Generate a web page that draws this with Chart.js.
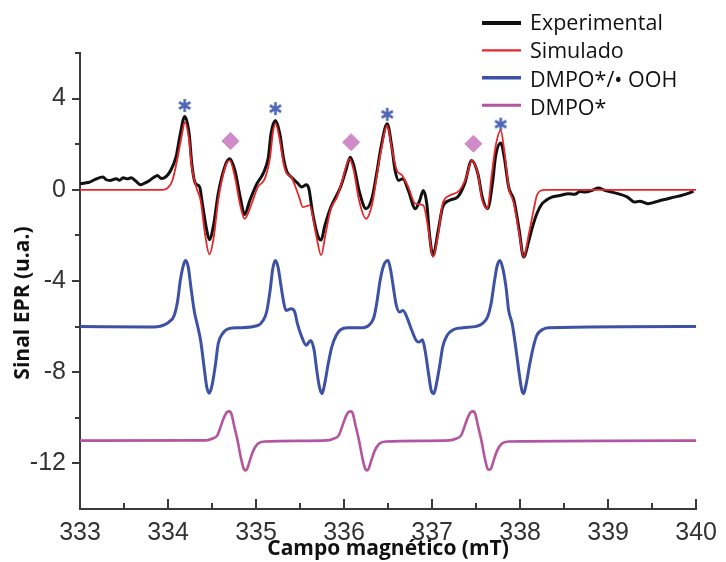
<!DOCTYPE html>
<html>
<head>
<meta charset="utf-8">
<script src="https://cdn.jsdelivr.net/npm/chart.js@4"></script>
<style>
  html, body { margin: 0; padding: 0; background: #fff; }
</style>
</head>
<body>
<canvas id="eprChart" width="726" height="562"></canvas>
<script>
// EPR spectra: field in mT, signal in arbitrary units
const expField = [333.00, 333.06, 333.11, 333.18, 333.26, 333.30, 333.34, 333.41, 333.45, 333.49,
  333.54, 333.58, 333.63, 333.69, 333.74, 333.79, 333.84, 333.88, 333.92, 333.96,
  334.03, 334.09, 334.14, 334.19, 334.24, 334.27, 334.31, 334.36, 334.39, 334.44,
  334.47, 334.52, 334.57, 334.65, 334.70, 334.76, 334.82, 334.87, 334.93, 335.01,
  335.08, 335.14, 335.17, 335.22, 335.27, 335.31, 335.35, 335.40, 335.47, 335.52,
  335.57, 335.60, 335.64, 335.70, 335.74, 335.78, 335.85, 335.96, 336.02, 336.07,
  336.11, 336.17, 336.25, 336.32, 336.37, 336.42, 336.49, 336.54, 336.58, 336.62,
  336.67, 336.73, 336.81, 336.86, 336.90, 336.94, 336.97, 337.01, 337.07, 337.12,
  337.20, 337.29, 337.37, 337.45, 337.52, 337.57, 337.63, 337.69, 337.72, 337.78,
  337.82, 337.87, 337.93, 337.99, 338.04, 338.10, 338.14, 338.19, 338.25, 338.30,
  338.36, 338.45, 338.55, 338.62, 338.68, 338.74, 338.82, 338.89, 338.96, 339.04,
  339.12, 339.22, 339.30, 339.36, 339.45, 339.52, 339.60, 339.67, 339.75, 339.83,
  339.90, 339.97];
const expSignal = [0.27, 0.30, 0.34, 0.47, 0.56, 0.44, 0.41, 0.49, 0.42, 0.53,
  0.48, 0.53, 0.40, 0.22, 0.30, 0.41, 0.55, 0.63, 0.50, 0.53,
  0.85, 1.43, 2.46, 3.22, 2.46, 1.14, 0.29, 0.12, -0.61, -1.78,
  -2.19, -1.49, -0.17, 1.07, 1.36, 0.85, -0.32, -1.08, -0.46, 0.27,
  0.71, 1.43, 2.46, 3.04, 2.46, 1.43, 0.80, 0.56, 0.30, 0.12,
  0.22, 0.05, -0.95, -2.00, -2.20, -1.60, -0.76, 0.12, 0.85, 1.43,
  1.07, -0.03, -0.83, -0.32, 0.71, 1.87, 2.90, 1.95, 0.85, 0.41,
  0.49, -0.03, -0.83, -0.46, -0.03, -0.61, -1.93, -2.88, -1.78, -0.76,
  -0.46, -0.32, 0.27, 1.29, 0.71, -0.32, -0.83, 0.41, 1.43, 2.05,
  1.43, 0.12, -0.46, -1.78, -2.95, -2.22, -1.64, -1.05, -0.61, -0.45,
  -0.32, -0.25, -0.17, -0.20, -0.08, -0.10, -0.02, 0.08, -0.02, -0.10,
  -0.18, -0.32, -0.54, -0.50, -0.61, -0.55, -0.46, -0.40, -0.32, -0.25,
  -0.17, -0.07];

const simField = [333.00, 333.94, 333.99, 334.05, 334.11, 334.16, 334.19, 334.24, 334.27, 334.32,
  334.37, 334.42, 334.47, 334.52, 334.57, 334.65, 334.70, 334.76, 334.82, 334.87,
  334.95, 335.02, 335.10, 335.16, 335.19, 335.22, 335.27, 335.31, 335.34, 335.40,
  335.49, 335.53, 335.61, 335.68, 335.74, 335.79, 335.85, 335.92, 335.98, 336.02,
  336.06, 336.11, 336.17, 336.25, 336.32, 336.37, 336.42, 336.49, 336.54, 336.60,
  336.66, 336.73, 336.81, 336.90, 336.96, 337.01, 337.07, 337.12, 337.20, 337.31,
  337.39, 337.45, 337.52, 337.57, 337.63, 337.67, 337.72, 337.78, 337.82, 337.87,
  337.93, 337.99, 338.04, 338.10, 338.16, 338.19, 338.23, 338.30, 340.00];
const simSignal = [0, 0, 0.06, 0.41, 1.43, 2.46, 2.97, 2.17, 1.00, 0.12,
  -0.46, -1.93, -2.83, -2.07, -0.46, 1.00, 1.29, 0.56, -0.68, -1.27,
  -0.61, 0.12, 0.49, 1.43, 2.46, 2.90, 2.17, 1.21, 0.78, 0.56,
  -0.32, -0.76, -0.68, -1.93, -2.88, -1.93, -0.83, -0.32, 0.41, 1.00,
  1.36, 0.85, -0.46, -1.27, -0.61, 0.56, 1.73, 2.82, 1.87, 0.85,
  0.63, 0.12, -0.61, -0.68, -1.78, -2.95, -1.93, -0.61, -0.25, -0.03,
  0.56, 1.29, 0.71, -0.46, -0.83, 0.41, 1.87, 2.60, 1.73, 0.12,
  -0.61, -1.93, -2.95, -1.93, -0.76, -0.25, -0.04, 0, 0];

const oohField = [333.00, 333.79, 333.94, 334.01, 334.07, 334.11, 334.14, 334.18, 334.20, 334.23,
  334.26, 334.30, 334.33, 334.37, 334.41, 334.44, 334.47, 334.50, 334.54, 334.57,
  334.62, 334.69, 334.80, 335.02, 335.08, 335.12, 335.16, 335.19, 335.22, 335.25,
  335.28, 335.31, 335.34, 335.40, 335.44, 335.47, 335.52, 335.57, 335.62, 335.66,
  335.69, 335.72, 335.75, 335.78, 335.82, 335.86, 335.91, 335.96, 336.04, 336.22,
  336.30, 336.34, 336.37, 336.41, 336.45, 336.50, 336.53, 336.56, 336.59, 336.63,
  336.67, 336.72, 336.77, 336.82, 336.85, 336.89, 336.92, 336.96, 336.99, 337.02,
  337.05, 337.09, 337.12, 337.17, 337.24, 337.35, 337.50, 337.57, 337.63, 337.67,
  337.71, 337.74, 337.77, 337.80, 337.84, 337.87, 337.91, 337.95, 337.99, 338.02,
  338.04, 338.07, 338.11, 338.15, 338.19, 338.25, 338.32, 340.00];
const oohSignal = [-6.00, -6.02, -5.95, -5.80, -5.51, -4.85, -3.97, -3.24, -3.10, -3.39,
  -4.27, -5.36, -5.87, -6.60, -7.78, -8.65, -8.92, -8.58, -7.63, -6.75,
  -6.31, -6.09, -6.05, -5.95, -5.73, -5.36, -4.41, -3.46, -3.10, -3.39,
  -4.12, -4.85, -5.29, -5.22, -5.36, -5.87, -6.46, -6.82, -6.61, -7.04,
  -7.92, -8.65, -8.94, -8.50, -7.63, -6.90, -6.39, -6.14, -6.05, -6.05,
  -5.87, -5.58, -5.00, -3.97, -3.32, -3.10, -3.54, -4.27, -5.00, -5.36,
  -5.29, -5.65, -6.17, -6.61, -6.68, -6.58, -7.04, -8.07, -8.80, -8.94,
  -8.50, -7.63, -6.90, -6.39, -6.14, -6.05, -5.99, -5.87, -5.58, -5.00,
  -3.97, -3.32, -3.10, -3.39, -4.27, -5.29, -5.87, -6.90, -8.07, -8.80,
  -8.94, -8.50, -7.63, -6.90, -6.39, -6.14, -6.05, -6.00];

const dmpoField = [333.00, 334.43, 334.50, 334.56, 334.59, 334.63, 334.67, 334.70, 334.72, 334.75,
  334.79, 334.83, 334.86, 334.88, 334.90, 334.93, 334.97, 335.02, 335.10, 335.81,
  335.88, 335.94, 335.97, 336.01, 336.05, 336.08, 336.10, 336.13, 336.17, 336.21,
  336.24, 336.26, 336.28, 336.31, 336.35, 336.40, 336.48, 337.20, 337.27, 337.33,
  337.36, 337.40, 337.44, 337.47, 337.49, 337.52, 337.56, 337.60, 337.63, 337.65,
  337.67, 337.70, 337.74, 337.79, 337.87, 340.00];
const dmpoSignal = [-11.00, -10.99, -10.92, -10.77, -10.48, -10.04, -9.75, -9.72, -9.82, -10.33,
  -10.99, -11.79, -12.23, -12.31, -12.23, -11.87, -11.43, -11.14, -11.04, -10.99,
  -10.92, -10.77, -10.48, -10.04, -9.75, -9.72, -9.82, -10.33, -10.99, -11.79,
  -12.23, -12.31, -12.23, -11.87, -11.43, -11.14, -11.04, -10.99, -10.92, -10.77,
  -10.48, -10.04, -9.75, -9.72, -9.82, -10.33, -10.99, -11.79, -12.23, -12.28,
  -12.23, -11.87, -11.43, -11.14, -11.04, -11.00];

// peak markers: asterisks for the spin adduct lines, diamonds for DMPO*
const starField = [334.19, 335.22, 336.49, 337.78];
const starSignal = [3.70, 3.56, 3.31, 2.88];
const diamondField = [334.71, 336.08, 337.47];
const diamondSignal = [2.14, 2.09, 2.02];

const fieldMin = 333, fieldMax = 340;
const signalMin = -14, signalMax = 6;

const axisColor = '#3a3a3a';
const tickColor = '#333';

const pts = (xs, ys) => xs.map((x, i) => ({ x: x, y: ys[i] }));

const lineStyle = {
  pointRadius: 0,
  fill: false,
  cubicInterpolationMode: 'monotone'
};

// six-spoke asterisk used as a point style
function asteriskStyle(size, color) {
  const c = document.createElement('canvas');
  c.width = size;
  c.height = size;
  const g = c.getContext('2d');
  g.strokeStyle = color;
  g.lineWidth = 2.6;
  const r = size / 2 - 1;
  g.beginPath();
  [90, 30, 150].forEach(deg => {
    const a = deg * Math.PI / 180;
    g.moveTo(size / 2 - r * Math.cos(a), size / 2 - r * Math.sin(a));
    g.lineTo(size / 2 + r * Math.cos(a), size / 2 + r * Math.sin(a));
  });
  g.stroke();
  return c;
}

// tick marks: x ticks point into the plot, y ticks point outwards
const axisTicks = {
  id: 'axisTicks',
  afterDraw(chart) {
    const { ctx, chartArea, scales } = chart;
    const x = scales.x, y = scales.y;
    ctx.save();
    ctx.strokeStyle = axisColor;
    ctx.lineWidth = 2;
    ctx.beginPath();
    x.ticks.forEach(t => {
      if (t.value === fieldMin) return;
      const px = Math.round(x.getPixelForValue(t.value));
      const len = Number.isInteger(t.value) ? 10 : 6;
      ctx.moveTo(px, chartArea.bottom);
      ctx.lineTo(px, chartArea.bottom - len);
    });
    y.ticks.forEach(t => {
      if (t.value === signalMin) return;
      const py = Math.round(y.getPixelForValue(t.value));
      const len = t.value % 4 === 0 ? 8 : 5;
      ctx.moveTo(chartArea.left, py);
      ctx.lineTo(chartArea.left - len, py);
    });
    ctx.stroke();

    // y axis title
    ctx.fillStyle = '#111';
    ctx.font = "bold 21px 'Open Sans'";
    ctx.textAlign = 'center';
    ctx.textBaseline = 'middle';
    ctx.translate(23, 303);
    ctx.rotate(-Math.PI / 2);
    ctx.fillText('Sinal EPR (u.a.)', 0, 0);
    ctx.restore();
  }
};

// legend sitting in the top right corner
const insetLegend = {
  id: 'insetLegend',
  afterDraw(chart) {
    const ctx = chart.ctx;
    ctx.save();
    ctx.font = "21.5px 'Open Sans'";
    ctx.fillStyle = '#111';
    ctx.textAlign = 'left';
    ctx.textBaseline = 'alphabetic';
    chart.data.datasets.filter(ds => ds.inLegend).forEach((ds, i) => {
      const lineY = 23 + i * 27.4;
      ctx.strokeStyle = ds.borderColor;
      ctx.lineWidth = ds.legendWidth;
      ctx.beginPath();
      ctx.moveTo(482, lineY);
      ctx.lineTo(521, lineY);
      ctx.stroke();
      ctx.fillText(ds.label, 530, 30 + i * 28.3);
    });
    ctx.restore();
  }
};

new Chart(document.getElementById('eprChart'), {
  type: 'line',
  data: {
    datasets: [
      { label: 'Experimental', data: pts(expField, expSignal), borderColor: '#111111',
        borderWidth: 3, order: 2, inLegend: true, legendWidth: 4, ...lineStyle },
      { label: 'Simulado', data: pts(simField, simSignal), borderColor: '#e8262a',
        borderWidth: 1.8, order: 1, inLegend: true, legendWidth: 2.2, ...lineStyle },
      { label: 'DMPO*/• OOH', data: pts(oohField, oohSignal), borderColor: '#3d52a5',
        borderWidth: 3, order: 3, inLegend: true, legendWidth: 3.5, ...lineStyle },
      { label: 'DMPO*', data: pts(dmpoField, dmpoSignal), borderColor: '#b3559f',
        borderWidth: 2.6, order: 3, inLegend: true, legendWidth: 3, ...lineStyle },
      { label: 'adduct peaks', data: pts(starField, starSignal), showLine: false,
        pointStyle: asteriskStyle(15, '#4f67b6'), pointRadius: 7, order: 5 },
      { label: 'DMPO* peaks', data: pts(diamondField, diamondSignal), showLine: false,
        pointStyle: 'rectRot', pointRadius: 8.5, borderColor: '#d08ac8', borderWidth: 1,
        backgroundColor: '#d08ac8', order: 0 }
    ]
  },
  options: {
    responsive: false,
    animation: false,
    events: [],
    layout: { padding: { top: 53, right: 24, left: 0, bottom: 0 } },
    plugins: {
      legend: { display: false },
      tooltip: { enabled: false }
    },
    scales: {
      x: {
        type: 'linear',
        min: fieldMin,
        max: fieldMax,
        afterFit: s => { s.height = 53; },
        grid: { display: false, drawTicks: false },
        border: { display: true, color: axisColor, width: 2 },
        ticks: {
          stepSize: 0.5,
          autoSkip: false,
          maxRotation: 0,
          padding: 9,
          color: tickColor,
          font: { family: "'Liberation Sans', Arial, sans-serif", size: 25 },
          callback: v => Number.isInteger(v) ? String(v) : ''
        },
        title: {
          display: true,
          text: 'Campo magnético (mT)',
          color: '#111',
          padding: { top: 0, bottom: 0 },
          font: { family: "'Open Sans'", size: 21, weight: 'bold' }
        }
      },
      y: {
        min: signalMin,
        max: signalMax,
        afterFit: s => { s.width = 80; },
        grid: { display: false, drawTicks: false },
        border: { display: true, color: axisColor, width: 2 },
        ticks: {
          stepSize: 2,
          autoSkip: false,
          padding: 14,
          color: tickColor,
          font: { family: "'Liberation Sans', Arial, sans-serif", size: 25 },
          callback: v => v % 4 === 0 ? String(v) : ''
        }
      }
    }
  },
  plugins: [axisTicks, insetLegend]
});
</script>
</body>
</html>
